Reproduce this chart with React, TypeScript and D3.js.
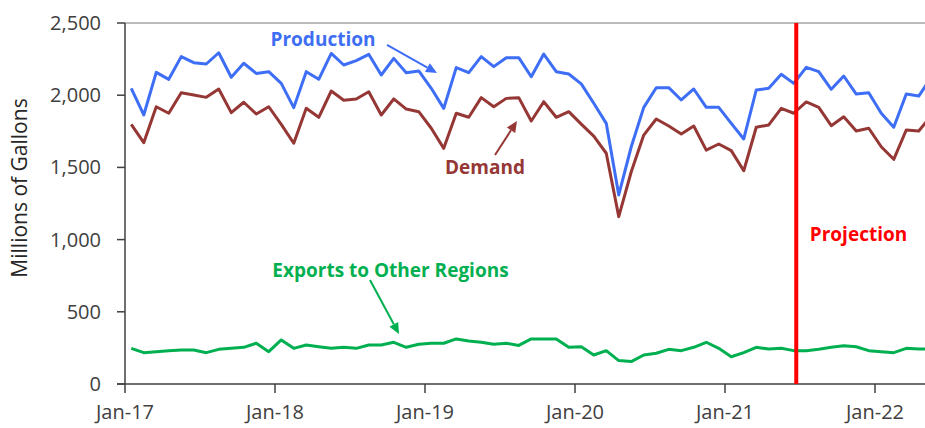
import React from "react";
import * as d3 from "d3";

// Monthly series, Jan-17 .. May-22 (millions of gallons)
const production = [
  2048, 1863, 2158, 2110, 2267, 2225, 2216, 2294, 2124, 2221, 2151, 2163,
  2082, 1914, 2163, 2110, 2289, 2209, 2239, 2283, 2140, 2255, 2156, 2168,
  2048, 1909, 2191, 2156, 2267, 2198, 2260, 2260, 2128, 2285, 2163, 2147,
  2078, 1944, 1805, 1309, 1643, 1916, 2052, 2052, 1967, 2043, 1916, 1916,
  1805, 1697, 2036, 2048, 2145, 2082, 2193, 2163, 2041, 2133, 2008, 2017,
  1875, 1778, 2008, 1994, 2124,
];
const demand = [
  1798, 1671, 1920, 1875, 2017, 2001, 1985, 2043, 1879, 1951, 1870, 1920,
  1798, 1667, 1909, 1847, 2029, 1965, 1974, 2024, 1863, 1974, 1904, 1886,
  1771, 1632, 1875, 1847, 1983, 1920, 1978, 1983, 1821, 1955, 1847, 1886,
  1800, 1717, 1598, 1159, 1470, 1724, 1835, 1787, 1731, 1787, 1620, 1662,
  1616, 1477, 1778, 1794, 1909, 1875, 1953, 1916, 1789, 1851, 1752, 1771,
  1643, 1556, 1759, 1752, 1858,
];
const exportsOut = [
  247, 217, 224, 231, 235, 235, 217, 240, 247, 254, 282, 224,
  305, 247, 270, 258, 247, 254, 247, 270, 270, 289, 254, 275,
  282, 282, 312, 298, 289, 275, 282, 267, 312, 312, 312, 254,
  258, 201, 231, 162, 155, 201, 213, 240, 231, 254, 289, 247,
  189, 217, 254, 242, 247, 231, 231, 240, 254, 265, 258, 231,
  224, 217, 247, 242, 242,
];
const xTickLabels = ["Jan-17", "Jan-18", "Jan-19", "Jan-20", "Jan-21", "Jan-22"];
const yTicks = [0, 500, 1000, 1500, 2000, 2500];
const projectionIndex = 53.7; // month index where projection begins

// annotations in data coordinates (month index, value)
const labels = [
  { text: "Production", x: 15.84, v: 2341, color: "#3D6EF5" },
  { text: "Demand", x: 28.8, v: 1454, color: "#953735" },
  { text: "Exports to Other Regions", x: 21.24, v: 741, color: "#00B050" },
  { text: "Projection", x: 58.68, v: 990, color: "#FF0000" },
];
const arrows = [
  { x1: 20.96, v1: 2348, x2: 24.96, v2: 2154, color: "#3D6EF5" },
  { x1: 29.6, v1: 1586, x2: 31.36, v2: 1821, color: "#953735" },
  { x1: 19.6, v1: 720, x2: 21.92, v2: 346, color: "#00B050" },
];

const W = 925;
const H = 428;
const M = { left: 125, right: 925, top: 23, bottom: 384 };
const FONT = "'Open Sans', 'Noto Sans', sans-serif";

export default function App() {
  const x = d3.scaleLinear().domain([0, 64]).range([M.left, M.right]);
  const y = d3.scaleLinear().domain([0, 2500]).range([M.bottom, M.top]);
  const line = d3
    .line<number>()
    .x((_, i) => x(i + 0.5))
    .y((d) => y(d));

  const series = [
    { data: production, color: "#3D6EF5" },
    { data: demand, color: "#953735" },
    { data: exportsOut, color: "#00B050" },
  ];

  const arrowHead = (a: typeof arrows[number]) => {
    const X1 = x(a.x1), Y1 = y(a.v1), X2 = x(a.x2), Y2 = y(a.v2);
    const ang = Math.atan2(Y2 - Y1, X2 - X1);
    const len = 11, wid = 5;
    const bx = X2 - len * Math.cos(ang), by = Y2 - len * Math.sin(ang);
    const px = -Math.sin(ang) * wid, py = Math.cos(ang) * wid;
    return {
      shaft: { X1, Y1, X2: bx, Y2: by },
      head: `${X2},${Y2} ${bx + px},${by + py} ${bx - px},${by - py}`,
    };
  };

  return (
    <svg
      width={W}
      height={H}
      style={{ position: "absolute", left: 0, top: 0, background: "#fff" }}
      fontFamily={FONT}
    >
      <defs>
        <clipPath id="plot">
          <rect x={M.left} y={M.top - 5} width={M.right - M.left} height={M.bottom - M.top + 10} />
        </clipPath>
      </defs>
      {/* top border */}
      <line x1={M.left} x2={M.right} y1={M.top} y2={M.top} stroke="#a6a6a6" strokeWidth={1.5} />
      {/* y axis */}
      <line x1={M.left} x2={M.left} y1={M.top} y2={M.bottom} stroke="#404040" strokeWidth={1.5} />
      {yTicks.map((t) => (
        <g key={t}>
          <line x1={M.left - 8} x2={M.left} y1={y(t)} y2={y(t)} stroke="#404040" strokeWidth={1.5} />
          <text x={M.left - 24} y={y(t)} dy="0.35em" textAnchor="end" fontSize={20} fill="#404040">
            {d3.format(",")(t)}
          </text>
        </g>
      ))}
      <text
        transform={`translate(${27},${188}) rotate(-90)`}
        textAnchor="middle"
        fontSize={21}
        fill="#262626"
      >
        Millions of Gallons
      </text>
      {/* x axis */}
      <line x1={M.left - 8} x2={M.right} y1={M.bottom} y2={M.bottom} stroke="#404040" strokeWidth={1.5} />
      {xTickLabels.map((lab, k) => (
        <g key={lab}>
          <line x1={x(k * 12)} x2={x(k * 12)} y1={M.bottom} y2={M.bottom + 9} stroke="#404040" strokeWidth={1.5} />
          <text x={x(k * 12)} y={M.bottom + 35} textAnchor="middle" fontSize={20} fill="#404040">
            {lab}
          </text>
        </g>
      ))}
      {/* series */}
      <g clipPath="url(#plot)">
        {series.map((s, i) => (
          <path key={i} d={line(s.data) || ""} fill="none" stroke={s.color} strokeWidth={3} strokeLinejoin="round" />
        ))}
      </g>
      {/* projection line */}
      <line
        x1={x(projectionIndex)}
        x2={x(projectionIndex)}
        y1={M.top}
        y2={M.bottom}
        stroke="#FF0000"
        strokeWidth={4}
      />
      {/* arrows */}
      {arrows.map((a, i) => {
        const h = arrowHead(a);
        return (
          <g key={i}>
            <line x1={h.shaft.X1} y1={h.shaft.Y1} x2={h.shaft.X2} y2={h.shaft.Y2} stroke={a.color} strokeWidth={2} />
            <polygon points={h.head} fill={a.color} />
          </g>
        );
      })}
      {/* labels */}
      {labels.map((l) => (
        <text key={l.text} x={x(l.x)} y={y(l.v)} textAnchor="middle" fontSize={19} fontWeight="bold" fill={l.color}>
          {l.text}
        </text>
      ))}
    </svg>
  );
}
